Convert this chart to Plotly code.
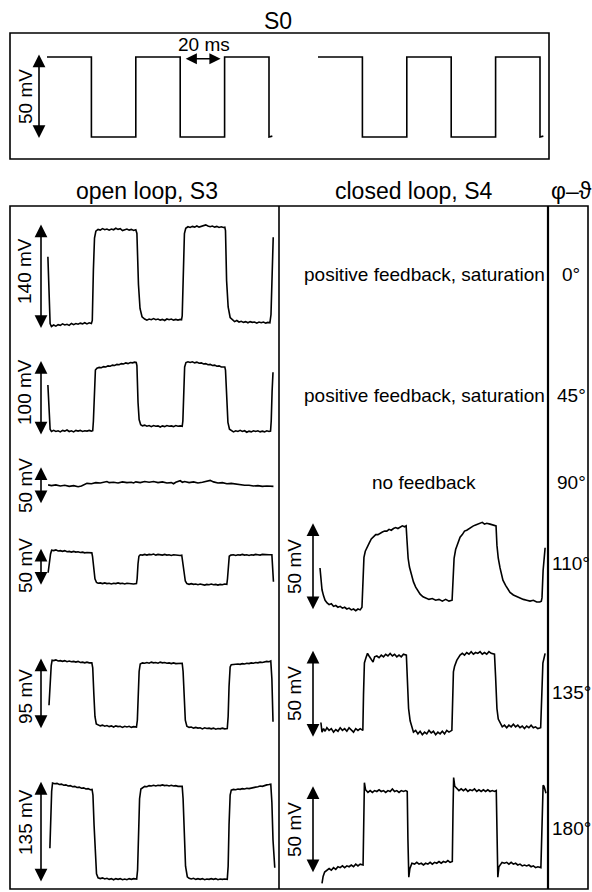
import plotly.graph_objects as go

# ------------------------------------------------------------------ data
# time in ms, voltage in mV
S0_T = [0, 20, 20, 40, 40, 60, 60, 80, 80, 100, 100, 101.5]
S0_MV = [23.5, 23.5, -23.5, -23.5, 23.5, 23.5, -23.5, -23.5, 23.5, 23.5, -23.5, -23]
S0_SCALE_MV = 50
S0_MARK_MS = [60, 80]

OPEN_LABELS = ["140 mV", "100 mV", "50 mV", "50 mV", "95 mV", "135 mV"]
OPEN_SCALE_MV = [140, 100, 50, 50, 95, 135]
PHASE_LABELS = ["0°", "45°", "90°", "110°", "135°", "180°"]
CLOSED_NOTES = ["positive feedback, saturation", "positive feedback, saturation", "no feedback"]
CLOSED_LABELS = ["50 mV", "50 mV", "50 mV"]
CLOSED_SCALE_MV = [50, 50, 50]

OPEN_0 = [(0.4, 27), (0.9, -30), (1.4, -62), (2.0, -66), (3.0, -64), (4.0, -65.5), (5.0, -63.5), (6.0, -64.5), (7.0, -62.5), (8.0, -64), (9.0, -63), (10.0, -64.5), (11.0, -62), (12.0, -63.5), (13.0, -62), (14.0, -63), (15.0, -61.5), (16.0, -62.5), (17.0, -61), (18.0, -62.5), (19.0, -61), (20.0, -62),
          (20.4, -58), (20.9, 10), (21.4, 52), (22.0, 61), (23.0, 63.5), (24.0, 62.5), (25.0, 64.5), (26.0, 63), (27.0, 64), (28.0, 62.5), (29.0, 64), (30.0, 63), (31.0, 65), (32.0, 63.5), (33.0, 64.5), (34.0, 62), (35.0, 63.5), (36.0, 64), (37.0, 62.5), (38.0, 63.5), (39.0, 62), (40.0, 63),
          (40.5, 58), (41.2, -10), (41.9, -42), (42.8, -53), (44.0, -56), (45.0, -57.5), (46.0, -56), (47.0, -57), (48.0, -55.5), (49.0, -57), (50.0, -56), (51.0, -57.5), (52.0, -56.5), (53.0, -58), (54.0, -56), (55.0, -57), (56.0, -56), (57.0, -57.5), (58.0, -56.5), (59.0, -57.5), (60.0, -56.5), (60.6, -57),
          (60.9, -52), (61.4, 20), (61.9, 58), (62.5, 65), (63.5, 67), (64.5, 66), (65.5, 67.5), (66.5, 66.5), (67.5, 68), (68.5, 66.5), (69.5, 67.5), (70.5, 68), (71.5, 69.5), (72.5, 68), (73.5, 67), (74.5, 68), (75.5, 66.5), (76.5, 67.5), (77.5, 66), (78.5, 67), (79.5, 66), (80.1, 66.5),
          (80.4, 62), (80.9, -5), (81.6, -40), (82.5, -54), (83.5, -57), (84.5, -59.5), (85.5, -58), (86.5, -60), (87.5, -59), (88.5, -60.5), (89.5, -59.5), (90.5, -61), (91.5, -59.5), (92.5, -60.5), (93.5, -60), (94.5, -61.5), (95.5, -60), (96.5, -61), (97.5, -60), (98.5, -61.5), (99.5, -60.5), (100.4, -61),
          (100.9, -50), (101.4, 20), (101.9, 53)]

OPEN_45 = [(0.4, 18), (0.9, -20), (1.4, -41), (2.0, -44), (3.0, -42.5), (4.0, -44), (5.0, -43), (6.0, -44.5), (7.0, -42.5), (8.0, -43.5), (9.0, -42), (10.0, -44), (11.0, -43), (12.0, -44.5), (13.0, -42.5), (14.0, -43.5), (15.0, -42.5), (16.0, -44), (17.0, -43), (18.0, -43.5), (19.0, -42.5), (20.0, -43.5), (20.6, -43),
           (20.9, -30), (21.3, 15), (21.8, 38), (22.5, 40.5), (23.5, 41.5), (24.5, 41), (25.5, 42.5), (26.5, 42), (27.5, 43.5), (28.5, 43), (29.5, 44.5), (30.5, 44), (31.5, 45.5), (32.5, 45), (33.5, 46.5), (34.5, 46), (35.5, 47.5), (36.5, 46.5), (37.5, 48), (38.5, 47.5), (39.5, 48.5), (40.2, 48),
           (40.5, 44), (41.0, -5), (41.5, -28), (42.2, -35), (43.0, -36.5), (44.0, -35.5), (45.0, -37), (46.0, -36), (47.0, -37.5), (48.0, -36), (49.0, -37), (50.0, -36.5), (51.0, -38), (52.0, -36.5), (53.0, -37.5), (54.0, -36), (55.0, -37), (56.0, -36.5), (57.0, -37.5), (58.0, -36), (59.0, -37), (60.0, -36.5), (60.9, -37),
           (61.2, -30), (61.6, 15), (62.0, 42), (62.6, 48), (63.5, 49), (64.5, 48), (65.5, 49), (66.5, 47.5), (67.5, 48.5), (68.5, 47), (69.5, 47.5), (70.5, 46), (71.5, 46.5), (72.5, 45), (73.5, 45.5), (74.5, 44), (75.5, 44.5), (76.5, 43), (77.5, 43.5), (78.5, 42), (79.5, 42.5), (80.1, 42),
           (80.4, 38), (80.9, -5), (81.5, -32), (82.2, -41), (83.0, -43), (84.0, -44.5), (85.0, -43), (86.0, -44), (87.0, -42.5), (88.0, -44), (89.0, -43), (90.0, -45), (91.0, -43.5), (92.0, -44.5), (93.0, -43), (94.0, -44), (95.0, -43), (96.0, -44.5), (97.0, -43.5), (98.0, -44.5), (99.0, -43), (100.0, -44), (100.7, -43.5),
           (101.0, -30), (101.4, 10), (101.8, 35)]

OPEN_90 = [(0.5, 1.5), (2, 0.5), (4, 1.5), (6, 0), (8, 1), (10, -0.5), (12, 0.5), (14, -1), (15.5, 0), (17, 2.5), (18, 3.5), (20, 3), (22, 4.5), (24, 4), (26, 5.5), (27, 6), (28, 4.5), (30, 5), (32, 4), (34, 5.5), (36, 4.5), (38, 5), (39, 4), (40, 5.5), (42, 4.5), (44, 6), (46, 5), (48, 6), (50, 4.5), (52, 5.5), (54, 4), (56, 4.5), (57, 3), (58, 5), (60, 7), (61, 5), (62, 6), (64, 4.5), (66, 5.5), (68, 4), (70, 5), (72, 6.5), (73.5, 7.5), (75, 5.5), (77, 4), (79, 4.5), (81, 3), (83, 3.5), (85, 2.5), (87, 2), (89, 1), (91, 1), (93, 0), (95, 0.5), (97, -0.5), (99, 0), (101, -1), (102, -0.5)]

OPEN_110 = [(0.5, -7), (1.0, 5), (1.6, 18), (2.1, 23), (3.0, 22.5), (4.0, 23.5), (5.0, 22), (6.0, 22.5), (7.0, 21.5), (8.0, 22.5), (9.0, 21), (10.0, 21.5), (11.0, 20.5), (12.0, 21.5), (13.0, 20.5), (14.0, 21), (15.0, 20), (16.0, 20.5), (17.0, 19.5), (18.0, 20), (19.0, 19.5), (20.2, 19.5),
            (20.5, 15), (21.0, 0), (21.6, -15), (22.3, -20), (23.0, -21), (24.0, -20.5), (25.0, -21.5), (26.0, -20.5), (27.0, -21.5), (28.0, -21), (29.0, -22), (30.0, -21), (31.0, -21.5), (32.0, -20.5), (33.0, -21.5), (34.0, -21), (35.0, -22), (36.0, -21), (37.0, -21.5), (38.0, -21), (39.0, -22), (40.3, -21.5),
            (40.6, -15), (41.0, 5), (41.4, 15), (42.0, 17), (43.0, 16.5), (44.0, 17.5), (45.0, 16.5), (46.0, 17.5), (47.0, 17), (48.0, 18), (49.0, 16.5), (50.0, 17.5), (51.0, 17), (52.0, 16.5), (53.0, 17.5), (54.0, 16.5), (55.0, 17), (56.0, 16), (57.0, 17), (58.0, 16.5), (59.0, 17), (60.0, 16), (60.7, 16.5),
            (61.0, 10), (61.6, -8), (62.3, -18), (63.0, -21.5), (64.0, -22.5), (65.0, -21.5), (66.0, -22.5), (67.0, -22), (68.0, -23), (69.0, -22), (70.0, -22.5), (71.0, -23.5), (72.0, -22.5), (73.0, -23), (74.0, -22), (75.0, -23), (76.0, -22.5), (77.0, -23.5), (78.0, -22.5), (79.0, -23), (80.0, -22), (81.0, -22.5),
            (81.3, -15), (81.7, 5), (82.1, 15), (82.8, 16.5), (84.0, 17), (85.0, 16), (86.0, 17), (87.0, 16.5), (88.0, 17.5), (89.0, 16.5), (90.0, 17), (91.0, 16), (92.0, 17), (93.0, 16.5), (94.0, 17.5), (95.0, 17), (96.0, 16.5), (97.0, 17.5), (98.0, 17), (99.0, 16.5), (100.0, 17), (101.3, 17),
            (101.6, 0), (102.0, -19)]

OPEN_135 = [(0.9, -15), (1.4, 15), (1.9, 38), (2.3, 45), (3.0, 44.5), (4.0, 45.5), (5.0, 44), (6.0, 44.5), (7.0, 43.5), (8.0, 44.5), (9.0, 43), (10.0, 44), (11.0, 43), (12.0, 43.5), (13.0, 42.5), (14.0, 43.5), (15.0, 42), (16.0, 42.5), (17.0, 41.5), (18.0, 42.5), (19.0, 41.5), (20.2, 41.5),
            (20.6, 35), (21.1, 0), (21.6, -30), (22.2, -40), (23.0, -41.5), (24.0, -42.5), (25.0, -41.5), (26.0, -43), (27.0, -42), (28.0, -43.5), (29.0, -42.5), (30.0, -44), (31.0, -42.5), (32.0, -43.5), (33.0, -43), (34.0, -44.5), (35.0, -43), (36.0, -44), (37.0, -43), (38.0, -44.5), (39.0, -43.5), (40.3, -44),
            (40.7, -35), (41.1, 0), (41.5, 30), (42.0, 40), (43.0, 41.5), (44.0, 41), (45.0, 42), (46.0, 41), (47.0, 42.5), (48.0, 41.5), (49.0, 42), (50.0, 41), (51.0, 42.5), (52.0, 41.5), (53.0, 42), (54.0, 41), (55.0, 41.5), (56.0, 40.5), (57.0, 41.5), (58.0, 40.5), (59.0, 41), (60.0, 40.5), (60.9, 41),
            (61.3, 30), (61.8, -10), (62.3, -35), (63.0, -43), (64.0, -44.5), (65.0, -44), (66.0, -45.5), (67.0, -44.5), (68.0, -45.5), (69.0, -45), (70.0, -46.5), (71.0, -45), (72.0, -46), (73.0, -45.5), (74.0, -46.5), (75.0, -45.5), (76.0, -47), (77.0, -46), (78.0, -46.5), (79.0, -45.5), (80.0, -46.5), (81.2, -46),
            (81.6, -30), (82.0, 10), (82.5, 36), (83.0, 39), (84.0, 39.5), (85.0, 39), (86.0, 40), (87.0, 39.5), (88.0, 40.5), (89.0, 40), (90.0, 41), (91.0, 40.5), (92.0, 41.5), (93.0, 41), (94.0, 42), (95.0, 41.5), (96.0, 42.5), (97.0, 42), (98.0, 43), (99.0, 43.5), (100.0, 43), (100.8, 44),
            (101.3, 20), (101.8, -37)]

OPEN_180 = [(1.3, -21), (1.7, 20), (2.1, 55), (2.5, 66), (3.5, 65), (4.5, 65.5), (5.5, 64), (6.5, 64.5), (7.5, 63), (8.5, 63.5), (9.5, 62), (10.5, 62.5), (11.5, 61), (12.5, 61.5), (13.5, 60), (14.5, 60.5), (15.5, 59), (16.5, 59.5), (17.5, 58), (18.5, 58.5), (19.5, 57), (20.3, 57.5),
            (20.7, 50), (21.2, 10), (21.7, -30), (22.3, -55), (23.0, -60.5), (24.0, -61.5), (25.0, -60.5), (26.0, -62), (27.0, -61), (28.0, -62.5), (29.0, -61.5), (30.0, -63), (31.0, -61.5), (32.0, -62.5), (33.0, -61.5), (34.0, -63), (35.0, -62), (36.0, -63), (37.0, -61.5), (38.0, -62.5), (39.0, -61.5), (40.4, -62),
            (40.8, -50), (41.2, 0), (41.7, 45), (42.3, 58), (43.0, 60), (44.0, 61.5), (45.0, 61), (46.0, 62.5), (47.0, 62), (48.0, 63), (49.0, 62), (50.0, 63), (51.0, 62.5), (52.0, 63.5), (53.0, 62.5), (54.0, 63), (55.0, 62), (56.0, 63), (57.0, 62), (58.0, 62.5), (59.0, 61.5), (60.0, 62), (60.9, 61.5),
            (61.3, 45), (61.8, 0), (62.4, -45), (63.2, -59), (64.0, -61), (65.0, -62), (66.0, -61), (67.0, -62.5), (68.0, -61.5), (69.0, -62.5), (70.0, -61.5), (71.0, -63), (72.0, -62), (73.0, -62.5), (74.0, -61.5), (75.0, -62.5), (76.0, -61.5), (77.0, -63), (78.0, -62), (79.0, -62.5), (80.0, -62), (81.2, -62.5),
            (81.6, -45), (82.0, 10), (82.5, 50), (83.0, 56.5), (84.0, 57.5), (85.0, 57), (86.0, 58), (87.0, 57.5), (88.0, 58.5), (89.0, 58), (90.0, 59), (91.0, 58.5), (92.0, 59.5), (93.0, 60), (94.0, 60.5), (95.0, 61), (96.0, 62), (97.0, 61.5), (98.0, 63), (99.0, 63.5), (100.0, 64), (100.8, 64.5),
            (101.3, 40), (101.8, -10), (102.6, -47)]

CLOSED_110 = [(0.9, -0.6), (1.4, -8), (1.8, -13), (2.5, -16.5), (3.2, -19), (4.1, -20.5), (5.0, -21.5), (6.0, -21), (7.0, -22.5), (8.0, -22), (9.0, -23), (10.0, -22.5), (11.0, -23.5), (12.0, -23), (13.0, -24), (14.0, -23.5), (15.0, -24.5), (16.0, -24), (17.0, -25), (18.0, -24), (19.0, -24.5), (19.8, -23),
              (20.2, -10), (20.7, 5.5), (21.3, 9), (22.1, 11.5), (23.0, 13.5), (24.0, 16), (25.0, 17), (26.0, 18.5), (27.0, 18.5), (28.0, 19.5), (29.0, 20), (30.0, 20.5), (31.0, 20.5), (32.0, 21.5), (33.0, 21), (34.0, 22), (35.0, 22.5), (36.0, 22), (37.0, 23), (38.0, 23.5), (39.0, 23), (39.7, 23.5),
              (40.1, 15), (40.6, 5), (41.2, 0), (42.0, -4), (43.0, -8.5), (44.0, -11.5), (45.0, -13.5), (46.0, -15.5), (47.3, -17), (48.5, -17.5), (50.0, -18.5), (51.5, -18), (53.0, -19), (54.5, -18.5), (56.0, -19.5), (57.5, -18.5), (59.0, -19.5), (60.4, -19),
              (60.8, -5), (61.3, 5), (62.0, 10), (63.0, 14), (64.0, 17), (65.0, 18.5), (66.0, 20.5), (67.0, 21), (68.5, 22.5), (70.0, 23.5), (71.0, 24), (72.0, 24.5), (73.0, 25), (74.0, 25.5), (75.0, 24.5), (76.0, 25), (77.5, 24.5), (79.0, 24), (80.2, 23.5),
              (80.6, 12.5), (81.2, 5), (82.0, -0.5), (83.3, -7.5), (84.5, -10.5), (85.5, -12.5), (86.5, -14.5), (88.0, -16), (89.6, -17), (91.0, -18), (92.5, -18.5), (94.0, -19), (95.5, -19.5), (97.0, -19), (98.5, -20), (99.9, -20), (100.6, -19.5),
              (100.9, -17.5), (101.4, -2), (102.3, 11)]

CLOSED_135 = [(1.3, -16), (1.8, -21.5), (2.5, -19.5), (3.2, -21), (4.0, -19), (5.0, -20.5), (6.0, -19.5), (7.0, -21.5), (8.0, -20), (9.0, -21), (10.0, -19), (11.0, -20.5), (12.0, -19.5), (13.0, -21), (14.0, -19), (15.0, -20), (16.0, -21.5), (17.0, -19.5), (18.0, -20.5), (19.0, -19.5), (20.2, -20.5),
              (20.5, 0), (20.9, 18), (21.6, 21), (22.3, 23.5), (23.0, 22), (24.0, 20), (24.8, 18.5), (25.5, 21.5), (26.5, 22), (27.5, 21), (28.5, 22.5), (29.5, 21.5), (30.5, 23), (31.5, 22), (32.5, 23.5), (33.5, 22), (34.5, 23), (35.5, 21.5), (36.5, 22.5), (37.5, 21.5), (38.5, 23), (39.8, 22.5),
              (40.2, 10), (40.8, -8), (41.5, -15), (42.3, -19), (43.0, -21.5), (44.0, -20.5), (45.0, -22.5), (46.0, -21), (47.0, -23), (48.0, -21.5), (49.0, -22.5), (50.0, -20.5), (51.0, -22), (52.0, -21), (53.0, -23), (54.0, -21.5), (55.0, -22.5), (56.0, -21), (57.0, -22.5), (58.0, -20.5), (59.0, -21.5), (60.3, -20.5),
              (60.6, 0), (61.0, 13), (61.5, 16), (62.5, 19.5), (64.0, 22.5), (65.0, 23.5), (66.0, 22.5), (67.0, 24), (68.0, 23), (69.0, 24.5), (70.0, 23), (71.0, 24), (72.0, 23.5), (73.0, 24.5), (74.0, 23), (75.0, 24), (76.0, 23), (77.0, 24.5), (78.0, 23.5), (79.5, 23),
              (80.0, 10), (80.6, -8), (81.2, -14), (82.0, -16.5), (83.0, -18.5), (84.0, -17.5), (85.0, -19), (86.0, -17.5), (87.0, -18.5), (88.0, -17), (89.0, -18.5), (90.0, -17.5), (91.0, -19), (92.0, -18), (93.0, -19.5), (94.0, -18), (95.0, -19), (96.0, -17.5), (97.0, -19), (98.0, -18.5), (99.0, -19.5), (100.3, -19),
              (100.7, 0), (101.3, 18), (102.3, 23.5)]

CLOSED_180 = [(1.8, -30.5), (2.3, -26.5), (3.0, -24), (4.1, -23), (5.0, -22), (6.0, -23), (7.0, -21.5), (8.0, -22.5), (9.0, -21), (10.0, -21.5), (11.0, -20.5), (12.0, -21.5), (13.0, -20.5), (14.0, -21), (15.0, -20), (16.0, -21), (17.0, -19.5), (18.0, -20.5), (19.0, -19.5), (20.3, -20),
              (20.6, 10), (20.9, 27), (21.4, 23), (22.5, 21.5), (23.5, 22.5), (24.5, 21.5), (25.5, 22.5), (26.5, 22), (27.5, 23), (28.5, 22), (29.5, 22.5), (30.5, 21.5), (31.5, 22.5), (32.5, 22), (33.5, 23.5), (34.5, 22), (35.5, 22.5), (36.5, 21.5), (37.5, 22.5), (38.5, 22), (39.5, 22.5), (40.2, 22),
              (40.5, -5), (40.9, -27), (41.4, -22), (42.3, -19), (43.5, -19.5), (44.5, -18.5), (45.5, -19.5), (46.5, -19), (47.5, -20), (48.5, -19), (49.5, -19.5), (50.5, -18.5), (51.5, -19.5), (52.5, -18.5), (53.5, -19), (54.5, -18), (55.5, -19), (56.5, -18), (57.5, -18.5), (58.5, -17.5), (59.5, -18.5), (60.5, -18),
              (60.8, 10), (61.1, 30), (61.6, 25), (62.6, 23.5), (63.5, 22.5), (64.5, 23.5), (65.5, 22.5), (66.5, 23.5), (67.5, 22), (68.5, 23), (69.5, 22.5), (70.5, 23.5), (71.5, 22), (72.5, 23), (73.5, 22), (74.5, 23), (75.5, 22), (76.5, 23), (77.5, 22), (78.5, 22.5), (79.5, 22), (80.3, 22.5),
              (80.6, -5), (81.0, -27), (81.5, -21), (82.9, -18.5), (84.0, -19), (85.0, -18.5), (86.0, -19.5), (87.0, -18.5), (88.0, -19.5), (89.0, -19), (90.0, -20), (91.0, -19.5), (92.0, -20.5), (93.0, -20), (94.0, -20.5), (95.0, -20), (96.0, -21), (97.0, -20.5), (98.0, -21.5), (99.0, -21), (100.4, -21.5),
              (100.9, 5), (101.4, 25.5), (101.8, 25), (102.7, 21)]

OPEN_TRACES = [OPEN_0, OPEN_45, OPEN_90, OPEN_110, OPEN_135, OPEN_180]
CLOSED_TRACES = [CLOSED_110, CLOSED_135, CLOSED_180]

# ------------------------------------------------------------------ layout geometry (pixels)
W, H = 592, 892
FONT = "Liberation Sans, Arial, Helvetica, sans-serif"
PX_PER_MS = 2.22
OPEN_X0_PX, CLOSED_X0_PX = 47, 318          # pixel of t = 0
COL_OPEN = (10, 279)
COL_CLOSED = (279, 548)
S0_BOX = (10, 33, 549, 159)
MAIN_BOX = (10, 206, 588, 889)
S0_CENTER_PX, S0_PX_PER_MV = 97, 1.7
OPEN_PX_PER_MV, CLOSED_PX_PER_MV = 0.75, 1.75
OPEN_CENTER_PX = [277, 398.5, 486, 567.5, 694, 832.5]
CLOSED_CENTER_PX = [567, 694.5, 830]
OPEN_LABEL_Y = [271, 392, 486, 566, 697, 822]
CLOSED_LABEL_Y = [567, 694, 830]
PHASE_Y = [275, 395, 482, 563, 692, 828]
NOTE_Y = [275, 395, 482]


def px2x(p):
    return p / W


def px2y(p):
    return 1 - p / H


def xrange_for(col, x0):
    return [(col[0] - x0) / PX_PER_MS, (col[1] - x0) / PX_PER_MS]


def yrange_for(top, bot, center, scale):
    return [(center - bot) / scale, (center - top) / scale]


fig = go.Figure()
line = dict(color="black", width=1.6)

# S0 (shown above both columns)
for xa in ["x", "x2"]:
    fig.add_trace(go.Scatter(x=S0_T, y=S0_MV, xaxis=xa, yaxis="y", mode="lines",
                             line=line, hoverinfo="skip"))

for i, tr in enumerate(OPEN_TRACES):
    fig.add_trace(go.Scatter(x=[p[0] for p in tr], y=[p[1] for p in tr],
                             xaxis="x", yaxis=f"y{i + 2}", mode="lines",
                             line=line, hoverinfo="skip"))
for i, tr in enumerate(CLOSED_TRACES):
    fig.add_trace(go.Scatter(x=[p[0] for p in tr], y=[p[1] for p in tr],
                             xaxis="x2", yaxis=f"y{i + 8}", mode="lines",
                             line=line, hoverinfo="skip"))

hidden = dict(visible=False, fixedrange=True)
lay = dict(
    width=W, height=H, margin=dict(l=0, r=0, t=0, b=0),
    paper_bgcolor="white", plot_bgcolor="rgba(0,0,0,0)",
    showlegend=False,
    xaxis=dict(domain=[px2x(COL_OPEN[0]), px2x(COL_OPEN[1])],
               range=xrange_for(COL_OPEN, OPEN_X0_PX), **hidden),
    xaxis2=dict(domain=[px2x(COL_CLOSED[0]), px2x(COL_CLOSED[1])],
                range=xrange_for(COL_CLOSED, CLOSED_X0_PX), anchor="y", **hidden),
    yaxis=dict(domain=[px2y(S0_BOX[3]), px2y(S0_BOX[1])],
               range=yrange_for(S0_BOX[1], S0_BOX[3], S0_CENTER_PX, S0_PX_PER_MV), **hidden),
)
main_dom = [px2y(MAIN_BOX[3]), px2y(MAIN_BOX[1])]
for i, c in enumerate(OPEN_CENTER_PX):
    lay[f"yaxis{i + 2}"] = dict(domain=main_dom,
                                range=yrange_for(MAIN_BOX[1], MAIN_BOX[3], c, OPEN_PX_PER_MV),
                                anchor="x", **hidden)
for i, c in enumerate(CLOSED_CENTER_PX):
    lay[f"yaxis{i + 8}"] = dict(domain=main_dom,
                                range=yrange_for(MAIN_BOX[1], MAIN_BOX[3], c, CLOSED_PX_PER_MV),
                                anchor="x2", **hidden)
fig.update_layout(**lay)

ann = []


def darrow(xref, yref, x0, y0, x1, y1, size=1.6, width=1.6, standoff=0):
    return dict(xref=xref, yref=yref, axref=xref, ayref=yref,
                x=x1, y=y1, ax=x0, ay=y0, text="", showarrow=True,
                arrowhead=2, startarrowhead=2, arrowside="end+start",
                arrowsize=size, startarrowsize=size, arrowwidth=width,
                arrowcolor="black", standoff=standoff, startstandoff=standoff)


def txt(s, px, py, size, angle=0):
    return dict(xref="paper", yref="paper", x=px2x(px), y=px2y(py), text=s,
                showarrow=False, textangle=angle, xanchor="center", yanchor="middle",
                font=dict(family=FONT, size=size, color="black"))


# S0 annotations
S0_ARROW_T = (39 - OPEN_X0_PX) / PX_PER_MS
ann.append(darrow("x", "y", S0_ARROW_T, -S0_SCALE_MV / 2, S0_ARROW_T, S0_SCALE_MV / 2))
ann.append(darrow("x", "y", S0_MARK_MS[0], 22.5, S0_MARK_MS[1], 22.5, size=1.4, width=1.6, standoff=4))
ann.append(txt("S0", 278, 21, 23))
ann.append(txt(f"{S0_SCALE_MV} mV", 25, 97, 19, -90))
ann.append(txt(f"{S0_MARK_MS[1] - S0_MARK_MS[0]} ms", 204, 45, 19))

# headers
ann.append(txt("open loop, S3", 147, 191, 23))
ann.append(txt("closed loop, S4", 413, 191, 23))
ann.append(txt("φ–ϑ", 571, 191, 23))

OPEN_ARROW_T = (41 - OPEN_X0_PX) / PX_PER_MS
CLOSED_ARROW_T = (313 - CLOSED_X0_PX) / PX_PER_MS
for i in range(6):
    L = OPEN_SCALE_MV[i]
    ann.append(darrow("x", f"y{i + 2}", OPEN_ARROW_T, -L / 2, OPEN_ARROW_T, L / 2))
    ann.append(txt(OPEN_LABELS[i], 25, OPEN_LABEL_Y[i], 19, -90))
    ann.append(txt(PHASE_LABELS[i], 571, PHASE_Y[i], 19))
for i in range(3):
    L = CLOSED_SCALE_MV[i]
    ann.append(darrow("x2", f"y{i + 8}", CLOSED_ARROW_T, -L / 2, CLOSED_ARROW_T, L / 2))
    ann.append(txt(CLOSED_LABELS[i], 294, CLOSED_LABEL_Y[i], 19, -90))
    ann.append(txt(CLOSED_NOTES[i], 424, NOTE_Y[i], 19))

fig.update_layout(annotations=ann)

shapes = [
    dict(type="rect", xref="paper", yref="paper",
         x0=px2x(S0_BOX[0]), x1=px2x(S0_BOX[2]), y0=px2y(S0_BOX[3]), y1=px2y(S0_BOX[1]),
         line=dict(color="black", width=1.6)),
    dict(type="rect", xref="paper", yref="paper",
         x0=px2x(MAIN_BOX[0]), x1=px2x(MAIN_BOX[2]), y0=px2y(MAIN_BOX[3]), y1=px2y(MAIN_BOX[1]),
         line=dict(color="black", width=1.6)),
    dict(type="line", xref="paper", yref="paper",
         x0=px2x(COL_OPEN[1]), x1=px2x(COL_OPEN[1]), y0=px2y(MAIN_BOX[3]), y1=px2y(MAIN_BOX[1]),
         line=dict(color="black", width=1.6)),
    dict(type="line", xref="paper", yref="paper",
         x0=px2x(COL_CLOSED[1]), x1=px2x(COL_CLOSED[1]), y0=px2y(MAIN_BOX[3]), y1=px2y(MAIN_BOX[1]),
         line=dict(color="black", width=2.2)),
]
fig.update_layout(shapes=shapes)

fig.write_html("out.html", config={"displayModeBar": False})
